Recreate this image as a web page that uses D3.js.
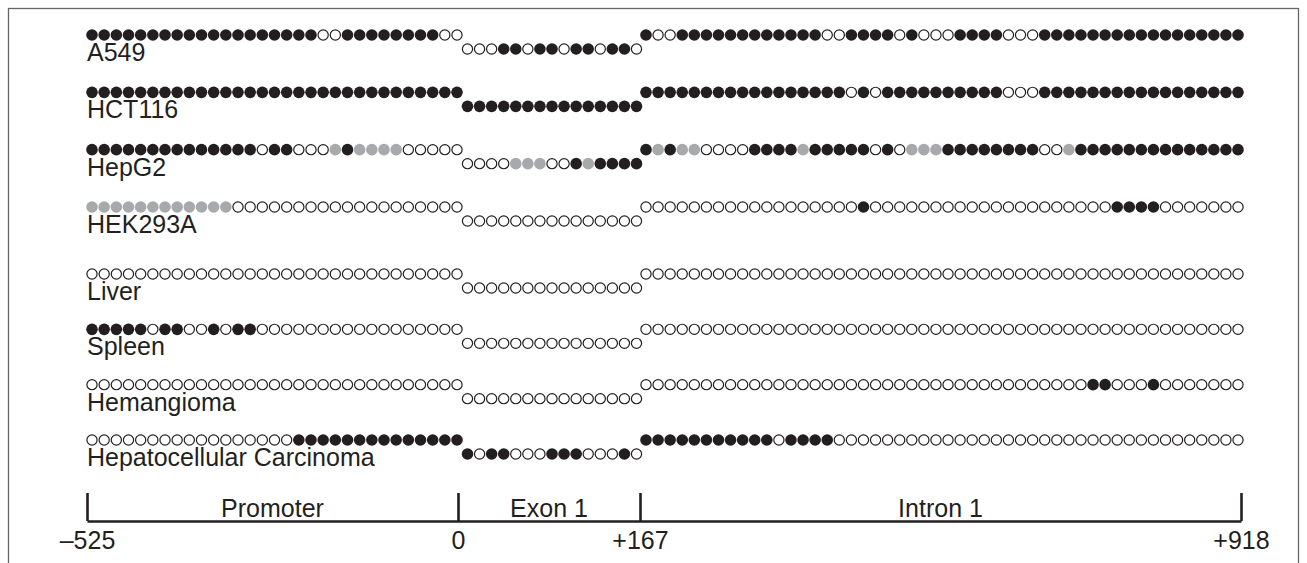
<!DOCTYPE html>
<html>
<head>
<meta charset="utf-8">
<script src="https://cdn.jsdelivr.net/npm/d3@7"></script>
<style>
  body { margin: 0; background: #fff; }
  svg text { font-family: "Liberation Sans", Arial, Helvetica, sans-serif; fill: #231f20; }
</style>
</head>
<body>
<div id="chart"></div>
<script>
// samples, top to bottom
var samples = ["A549", "HCT116", "HepG2", "HEK293A", "Liver", "Spleen", "Hemangioma", "Hepatocellular Carcinoma"];

// CpG status per site: 1 = methylated, 0 = unmethylated, g = partially methylated (grey)
var promoter = [
	"1111111111111111111001111111100",
	"1111111111111111111111111111111",
	"11111111111111011000g1gggg00000",
	"gggggggggggg0000000000000000000",
	"0000000000000000000000000000000",
	"1111101100101100000000000000000",
	"0000000000000000000000000000000",
	"0000000000000000011111111111111"
];
var exon1 = [
	"000110110110110",
	"111111111111111",
	"0000ggg001g1111",
	"000000000000000",
	"000000000000000",
	"000000000000000",
	"000000000000000",
	"101100011100010"
];
var intron1 = [
	"10011111111111100111101000111100011111111111111111",
	"11111111111111111010111111111100011111111111111111",
	"1g1gg00001111g11111010ggg1111111100g11111111111111",
	"00000000000000000010000000000000000000011110000000",
	"00000000000000000000000000000000000000000000000000",
	"00000000000000000000000000000000000000000000000000",
	"00000000000000000000000000000000000001100010000000",
	"11111111111011110000000000000000000000000000000000"
];

// region boundaries (bp) and their labels
var boundaries = [-525, 0, 167, 918];
var tickLabels = ["\u2013525", "0", "+167", "+918"];
var regions = ["Promoter", "Exon 1", "Intron 1"];

(function() {
	var width = 1307, height = 563;
	var fontSize = 25;

	var svg = d3.select("#chart")
		.append("svg")
		.attr("width", width)
		.attr("height", height)

	// figure frame
	svg.append("rect")
		.attr("x", 8.5).attr("y", 8.5)
		.attr("width", 1290).attr("height", 570)
		.attr("fill", "none")
		.attr("stroke", "#666")
		.attr("stroke-width", 1.3)

	// schematic (not to scale) position of each boundary
	var bp = d3.scaleLinear().domain(boundaries).range([87, 458, 640, 1241])

	// rows: cell lines, then tissues with a little extra gap
	var rowY = d3.scaleLinear().domain([0, 3, 4, 7]).range([35, 207, 274, 440])
	var exonDrop = 14

	var color = { "1": "#231f20", "0": "#fff", "g": "#a7a9ac" }

	// evenly spaced sites inside each region
	var segs = [
		{ data: promoter, x: d3.scaleLinear().domain([0, 30]).range([92, 457]), dy: 0 },
		{ data: exon1, x: d3.scaleLinear().domain([0, 14]).range([467.5, 636.5]), dy: exonDrop },
		{ data: intron1, x: d3.scaleLinear().domain([0, 49]).range([646, 1238]), dy: 0 }
	]

	var rows = svg.selectAll(".sample")
		.data(samples)
		.enter().append("g")
		.attr("class", "sample")
		.attr("transform", function(d, i) { return "translate(0," + rowY(i) + ")" })

	rows.append("text")
		.attr("x", 87)
		.attr("y", 26)
		.attr("font-size", fontSize)
		.text(function(d) { return d })

	segs.forEach(function(seg) {
		rows.selectAll(null)
			.data(function(d, i) {
				return seg.data[i].split("").map(function(s, k) { return { s: s, k: k } })
			})
			.enter().append("circle")
			.attr("cx", function(d) { return seg.x(d.k) })
			.attr("cy", seg.dy)
			.attr("r", function(d) { return d.s == "0" ? 5.1 : 5.8 })
			.attr("fill", function(d) { return color[d.s] })
			.attr("stroke", function(d) { return d.s == "0" ? "#231f20" : "none" })
			.attr("stroke-width", 1.2)
	})

	// bottom scale
	var axis = d3.axisBottom(bp)
		.tickValues(boundaries)
		.tickFormat(function(d, i) { return tickLabels[i] })
		.tickSize(-28)
		.tickSizeOuter(0)
		.tickPadding(10)

	var ax = svg.append("g")
		.attr("transform", "translate(0,521)")
		.call(axis)

	ax.select(".domain").attr("stroke", "#231f20").attr("stroke-width", 2.6)
	ax.selectAll(".tick line").attr("stroke", "#231f20").attr("stroke-width", 2.6)
	ax.selectAll(".tick text")
		.attr("font-size", fontSize)
		.attr("font-family", "Liberation Sans, Arial, sans-serif")
		.attr("fill", "#231f20")

	svg.selectAll(".region")
		.data(regions)
		.enter().append("text")
		.attr("class", "region")
		.attr("x", function(d, i) { return (bp(boundaries[i]) + bp(boundaries[i + 1])) / 2 })
		.attr("y", 517)
		.attr("text-anchor", "middle")
		.attr("font-size", fontSize)
		.text(function(d) { return d })
})();
</script>
</body>
</html>
